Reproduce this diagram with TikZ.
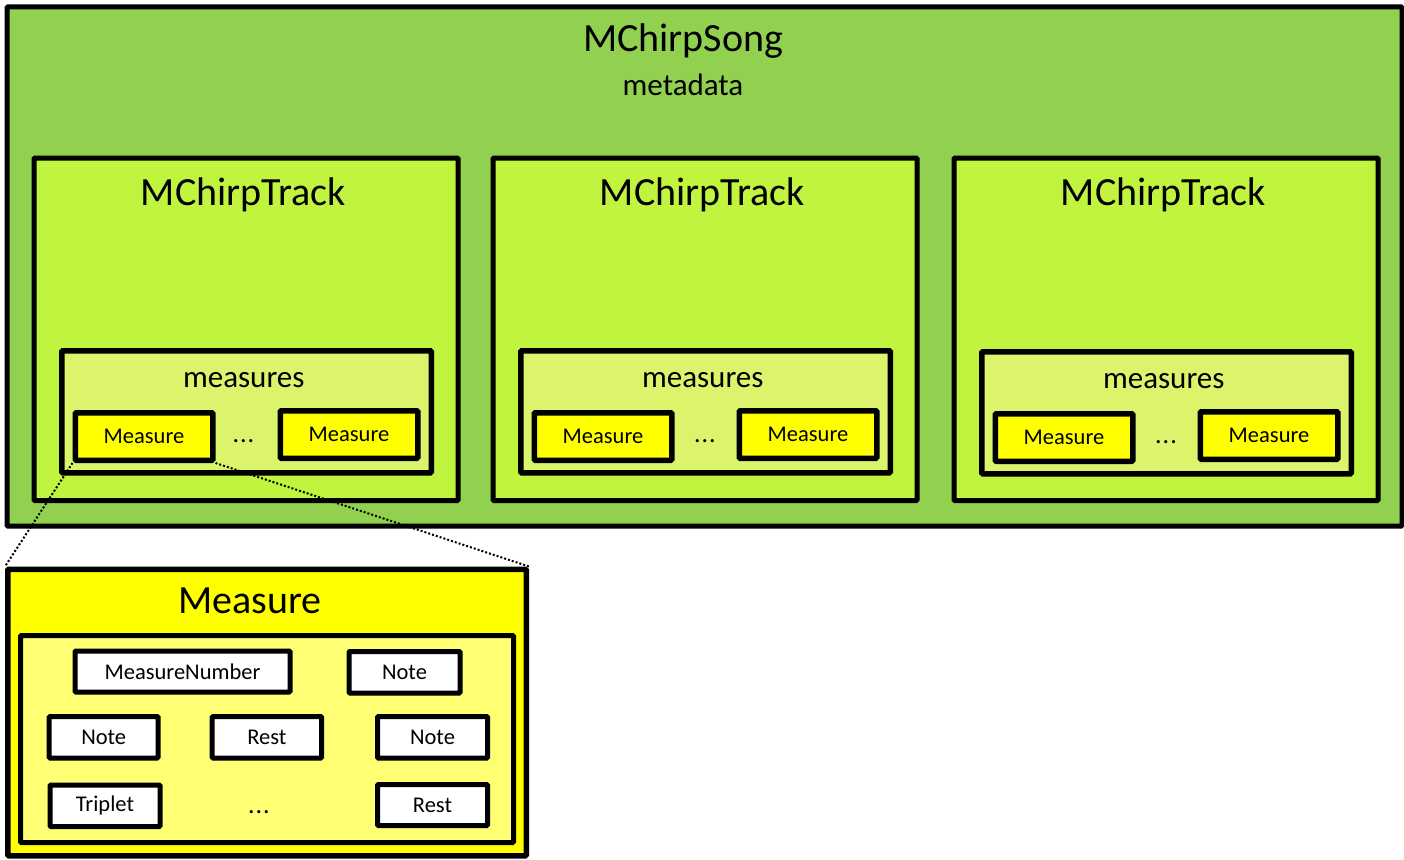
\documentclass[tikz,border=0pt]{standalone}
\usepackage{fontspec}
\setmainfont{Carlito}
\definecolor{songgreen}{HTML}{92D050}
\definecolor{trackgreen}{HTML}{C0F43E}
\definecolor{measuresgreen}{HTML}{DCF46C}
\definecolor{measureyellow}{HTML}{FFFF00}
\definecolor{paleyellow}{HTML}{FFFF73}
\begin{document}
\begin{tikzpicture}[x=1pt, y=-1pt,
  box/.style = {draw, rectangle, line width=5pt, rounded corners=1pt, inner sep=0pt, anchor=north west},
  bigtext/.style = {font=\fontsize{40}{48}\selectfont, anchor=base, inner sep=0pt},
  midtext/.style = {font=\fontsize{31}{37}\selectfont, anchor=base, inner sep=0pt},
  smalltext/.style = {font=\fontsize{22.5}{27}\selectfont},
  dotstext/.style = {font=\fontsize{26}{30}\selectfont, anchor=base, inner sep=0pt},
  measurebox/.style = {box, smalltext, line width=5.5pt, fill=measureyellow, minimum width=137.5, minimum height=47.5},
  itembox/.style = {box, smalltext, fill=white, minimum width=110, minimum height=41.5},
  zoomline/.style = {dotted, line width=2pt}]
\useasboundingbox (0,0) rectangle (1404,859);

%song
\node [box, fill=songgreen, minimum width=1395, minimum height=519] (song) at (4.5,4.5) {};
\node [bigtext] (songtitle) at (683,52) {MChirpSong};
\node [midtext] (metadata) at (683,95) {metadata};

%tracks
\node [box, fill=trackgreen, minimum width=424, minimum height=342.5] (track1) at (31.5,155.5) {};
\node [box, fill=trackgreen, minimum width=424, minimum height=342.5] (track2) at (490.5,155.5) {};
\node [box, fill=trackgreen, minimum width=424, minimum height=342.5] (track3) at (951.5,155.5) {};
\node [bigtext] (tracktitle1) at (243.5,205) {MChirpTrack};
\node [bigtext] (tracktitle2) at (702.5,205) {MChirpTrack};
\node [bigtext] (tracktitle3) at (1163.5,205) {MChirpTrack};

%measures of each track
\node [box, line width=5.5pt, fill=measuresgreen, minimum width=369.5, minimum height=122] (measures1) at (59,348) {};
\node [box, line width=5.5pt, fill=measuresgreen, minimum width=369.5, minimum height=122] (measures2) at (518,348) {};
\node [box, line width=5.5pt, fill=measuresgreen, minimum width=369.5, minimum height=122] (measures3) at (979,349) {};
\node [midtext] (measurestitle1) at (243.75,387) {measures};
\node [midtext] (measurestitle2) at (702.75,387) {measures};
\node [midtext] (measurestitle3) at (1163.75,388) {measures};

\node [measurebox] (m1a) at (72.5,410) {Measure};
\node [measurebox] (m1b) at (277.5,408) {Measure};
\node [measurebox] (m2a) at (531.5,410) {Measure};
\node [measurebox] (m2b) at (736.5,408) {Measure};
\node [measurebox] (m3a) at (992.5,411) {Measure};
\node [measurebox] (m3b) at (1197.5,409) {Measure};
\node [dotstext] (dots1) at (243.5,442) {.\kern1pt.\kern1pt.};
\node [dotstext] (dots2) at (705,442) {.\kern1pt.\kern1pt.};
\node [dotstext] (dots3) at (1166,443) {.\kern1pt.\kern1pt.};

%measure in detail
\node [box, line width=5.5pt, fill=measureyellow, minimum width=518.5, minimum height=286.5] (detail) at (5,566.5) {};
\node [bigtext] (detailtitle) at (250,613) {Measure};
\node [box, fill=paleyellow, minimum width=493, minimum height=207] (content) at (18,633) {};
\node [itembox, minimum width=215, minimum height=41] (number) at (72.5,648.5) {MeasureNumber};
\node [itembox, minimum width=111] (note1) at (346.5,649) {Note};
\node [itembox, minimum width=109] (note2) at (46.7,714) {Note};
\node [itembox, minimum width=109.3] (rest1) at (209.7,714) {Rest};
\node [itembox] (note3) at (375,714) {Note};
\node [itembox] (triplet) at (47.5,782.5) {Triplet};
\node [itembox, minimum height=41] (rest2) at (375,782) {Rest};
\node [dotstext] (dots4) at (259,813) {.\kern1pt.\kern1pt.};

%zoom lines
\draw [zoomline] (m1a.south west) -- (detail.north west);
\draw [zoomline] (m1a.south east) -- (detail.north east);
\end{tikzpicture}
\end{document}
